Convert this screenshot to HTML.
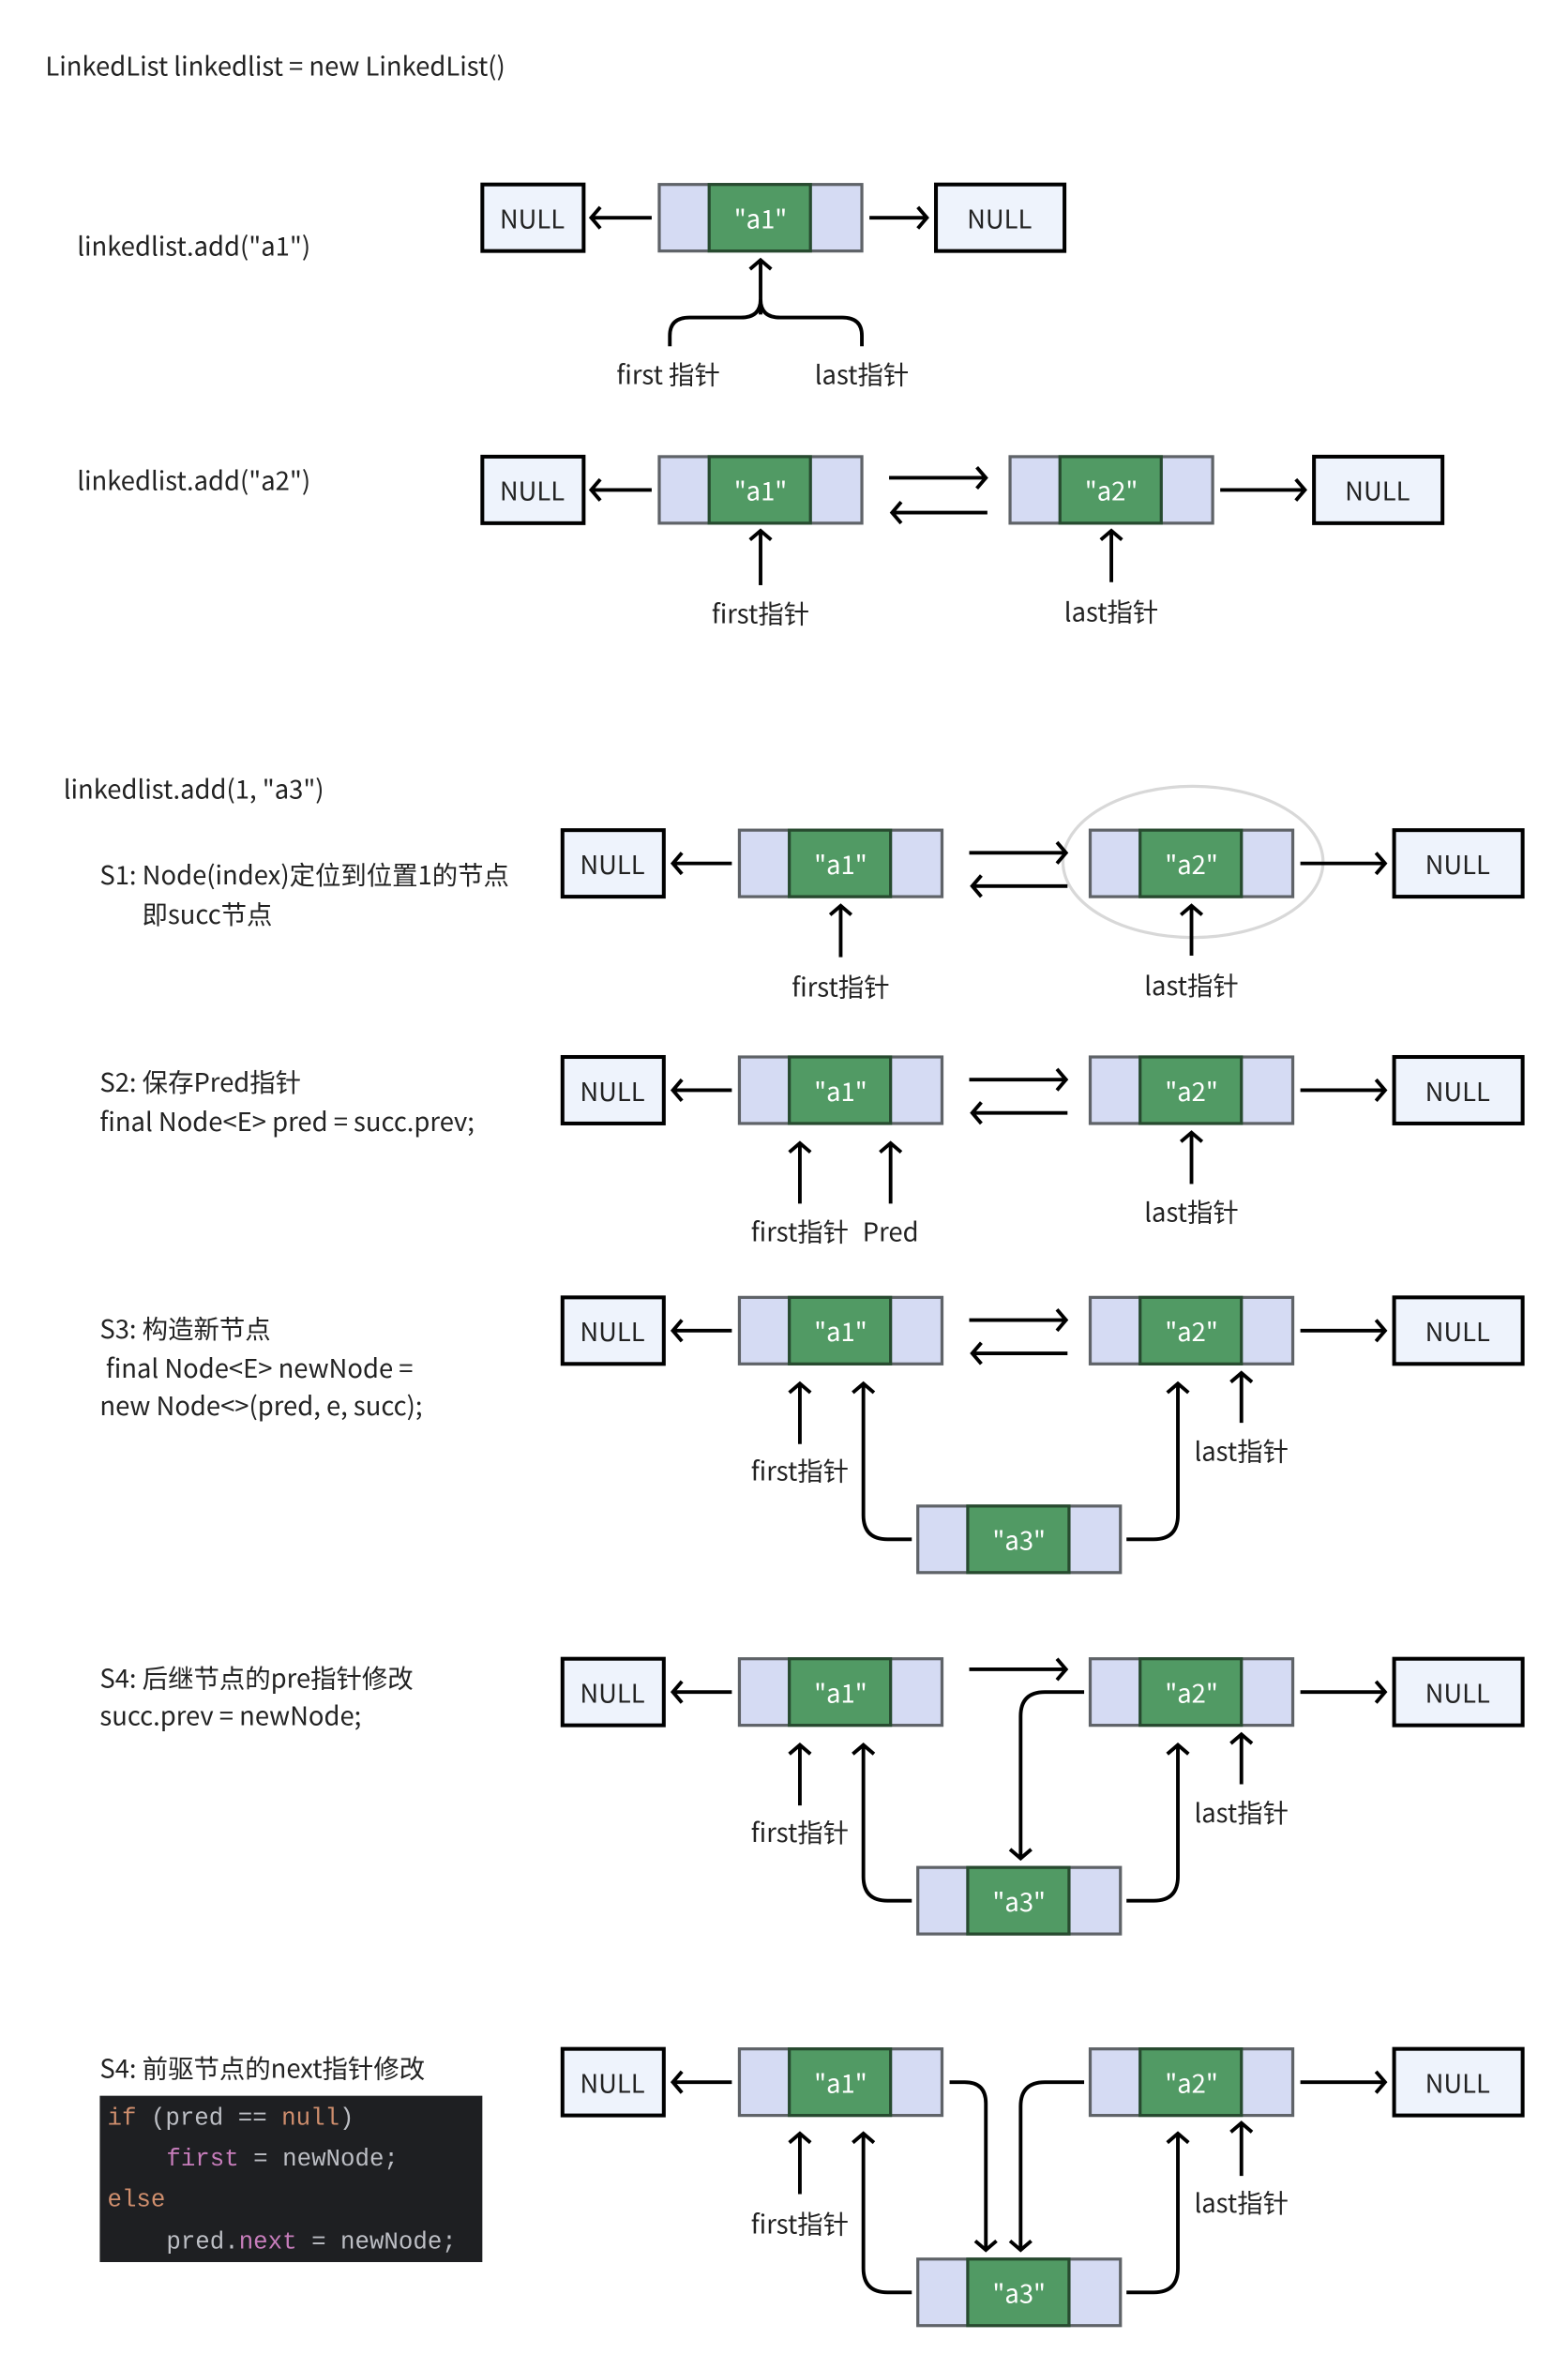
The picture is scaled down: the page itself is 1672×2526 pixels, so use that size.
<!DOCTYPE html>
<html><head><meta charset="utf-8"><style>
html,body{margin:0;padding:0;background:#fff}
svg{display:block}
text{font-family:"Noto Sans CJK SC","Liberation Sans",sans-serif;font-size:17px;fill:#222}
.w{fill:#fff;text-anchor:middle}
.c{text-anchor:middle}
.m{font-family:"Liberation Mono","Noto Sans CJK SC",monospace;font-size:16px}
.o{fill:#cf8e6d}.g{fill:#bcbec4}.p{fill:#c77dbb}
</style></head><body>
<svg width="1672" height="2526" viewBox="0 0 1037 1566.7" preserveAspectRatio="none" xmlns="http://www.w3.org/2000/svg">
<defs>
<marker id="a" markerUnits="userSpaceOnUse" markerWidth="20" markerHeight="20" viewBox="-10 -10 20 20" refX="0" refY="0" orient="auto">
<path d="M-6,-7 L0,0 L-6,7" fill="none" stroke="#000" stroke-width="2.4"/></marker>
<g id="n"><rect x="0" y="0" width="134" height="44" fill="#d5dbf3" stroke="#5f6368" stroke-width="2"/><rect x="33" y="0" width="67" height="44" fill="#519a64" stroke="#274a2f" stroke-width="2"/></g>
<g id="u"><rect x="0" y="0" width="67" height="44" fill="#eef3fc" stroke="#000" stroke-width="2.5"/></g>
<g id="v"><rect x="0" y="0" width="85" height="44" fill="#eef3fc" stroke="#000" stroke-width="2.5"/></g>
</defs>
<text x="30" y="50">LinkedList linkedlist = new LinkedList()</text>

<!-- Row 1 -->
<text x="51" y="169">linkedlist.add("a1")</text>
<use href="#u" x="319" y="122"/><text class="c" x="352" y="151">NULL</text>
<use href="#n" x="436" y="122"/><text class="w" x="503" y="151">"a1"</text>
<use href="#v" x="619" y="122"/><text class="c" x="661" y="151">NULL</text>
<g fill="none" stroke="#000" stroke-width="2.4">
<path d="M431,144 H391" marker-end="url(#a)"/>
<path d="M575,144 H613" marker-end="url(#a)"/>
<path d="M503,208 V172" marker-end="url(#a)"/>
<path d="M443,229 V222 Q443,210 456,210 H490 Q503,210 503,198"/>
<path d="M570,229 V222 Q570,210 557,210 H516 Q503,210 503,198"/>
</g>
<text class="c" x="442" y="254">first 指针</text>
<text class="c" x="570" y="254">last指针</text>

<!-- Row 2 -->
<text x="51" y="324">linkedlist.add("a2")</text>
<use href="#u" x="319" y="302"/><text class="c" x="352" y="331">NULL</text>
<use href="#n" x="436" y="302"/><text class="w" x="503" y="331">"a1"</text>
<use href="#n" x="668" y="302"/><text class="w" x="735" y="331">"a2"</text>
<use href="#v" x="869" y="302"/><text class="c" x="911" y="331">NULL</text>
<g fill="none" stroke="#000" stroke-width="2.4">
<path d="M431,324 H391" marker-end="url(#a)"/>
<path d="M588,316 H652" marker-end="url(#a)"/>
<path d="M653,339 H590" marker-end="url(#a)"/>
<path d="M807,324 H863" marker-end="url(#a)"/>
<path d="M503,387 V351" marker-end="url(#a)"/>
<path d="M735,385 V351" marker-end="url(#a)"/>
</g>
<text class="c" x="503" y="412">first指针</text>
<text class="c" x="735" y="411">last指针</text>

<text x="42" y="528">linkedlist.add(1, "a3")</text>

<!-- S1 -->
<text x="66" y="585">S1: Node(index)定位到位置1的节点</text>
<text x="94" y="611">即succ节点</text>
<ellipse cx="789" cy="570" rx="86" ry="50" fill="none" stroke="#d8d8d8" stroke-width="2"/>
<use href="#u" x="372" y="549"/><text class="c" x="405" y="578">NULL</text>
<use href="#n" x="489" y="549"/><text class="w" x="556" y="578">"a1"</text>
<use href="#n" x="721" y="549"/><text class="w" x="788" y="578">"a2"</text>
<use href="#v" x="922" y="549"/><text class="c" x="964" y="578">NULL</text>
<g fill="none" stroke="#000" stroke-width="2.4">
<path d="M484,571 H445" marker-end="url(#a)"/>
<path d="M641,564 H705" marker-end="url(#a)"/>
<path d="M706,586 H643" marker-end="url(#a)"/>
<path d="M860,571 H916" marker-end="url(#a)"/>
<path d="M556,633 V599" marker-end="url(#a)"/>
<path d="M788,632 V599" marker-end="url(#a)"/>
</g>
<text class="c" x="556" y="659">first指针</text>
<text class="c" x="788" y="658">last指针</text>

<!-- S2 -->
<text x="66" y="722">S2: 保存Pred指针</text>
<text x="66" y="748">final Node&lt;E&gt; pred = succ.prev;</text>
<use href="#u" x="372" y="699"/><text class="c" x="405" y="728">NULL</text>
<use href="#n" x="489" y="699"/><text class="w" x="556" y="728">"a1"</text>
<use href="#n" x="721" y="699"/><text class="w" x="788" y="728">"a2"</text>
<use href="#v" x="922" y="699"/><text class="c" x="964" y="728">NULL</text>
<g fill="none" stroke="#000" stroke-width="2.4">
<path d="M484,721 H445" marker-end="url(#a)"/>
<path d="M641,714 H705" marker-end="url(#a)"/>
<path d="M706,736 H643" marker-end="url(#a)"/>
<path d="M860,721 H916" marker-end="url(#a)"/>
<path d="M529,796 V756" marker-end="url(#a)"/>
<path d="M589,796 V756" marker-end="url(#a)"/>
<path d="M788,783 V749" marker-end="url(#a)"/>
</g>
<text class="c" x="529" y="821">first指针</text>
<text class="c" x="589" y="821">Pred</text>
<text class="c" x="788" y="808">last指针</text>

<!-- S3 -->
<text x="66" y="885">S3: 构造新节点</text>
<text x="70" y="911">final Node&lt;E&gt; newNode =</text>
<text x="66" y="936">new Node&lt;&gt;(pred, e, succ);</text>
<use href="#u" x="372" y="858"/><text class="c" x="405" y="887">NULL</text>
<use href="#n" x="489" y="858"/><text class="w" x="556" y="887">"a1"</text>
<use href="#n" x="721" y="858"/><text class="w" x="788" y="887">"a2"</text>
<use href="#v" x="922" y="858"/><text class="c" x="964" y="887">NULL</text>
<use href="#n" x="607" y="996"/><text class="w" x="674" y="1025">"a3"</text>
<g fill="none" stroke="#000" stroke-width="2.4">
<path d="M484,880 H445" marker-end="url(#a)"/>
<path d="M641,873 H705" marker-end="url(#a)"/>
<path d="M706,895 H643" marker-end="url(#a)"/>
<path d="M860,880 H916" marker-end="url(#a)"/>
<path d="M529,955 V915" marker-end="url(#a)"/>
<path d="M603,1018 H587 Q571,1018 571,1002 V915" marker-end="url(#a)"/>
<path d="M745,1018 H763 Q779,1018 779,1002 V915" marker-end="url(#a)"/>
<path d="M821,941 V908" marker-end="url(#a)"/>
</g>
<text class="c" x="529" y="979">first指针</text>
<text class="c" x="821" y="966">last指针</text>

<!-- S4a -->
<text x="66" y="1116">S4:  后继节点的pre指针修改</text>
<text x="66" y="1141">succ.prev = newNode;</text>
<use href="#u" x="372" y="1097"/><text class="c" x="405" y="1126">NULL</text>
<use href="#n" x="489" y="1097"/><text class="w" x="556" y="1126">"a1"</text>
<use href="#n" x="721" y="1097"/><text class="w" x="788" y="1126">"a2"</text>
<use href="#v" x="922" y="1097"/><text class="c" x="964" y="1126">NULL</text>
<use href="#n" x="607" y="1235"/><text class="w" x="674" y="1264">"a3"</text>
<g fill="none" stroke="#000" stroke-width="2.4">
<path d="M484,1119 H445" marker-end="url(#a)"/>
<path d="M641,1104 H705" marker-end="url(#a)"/>
<path d="M717,1119 H691 Q675,1119 675,1135 V1229" marker-end="url(#a)"/>
<path d="M860,1119 H916" marker-end="url(#a)"/>
<path d="M529,1194 V1154" marker-end="url(#a)"/>
<path d="M603,1257 H587 Q571,1257 571,1241 V1154" marker-end="url(#a)"/>
<path d="M745,1257 H763 Q779,1257 779,1241 V1154" marker-end="url(#a)"/>
<path d="M821,1180 V1147" marker-end="url(#a)"/>
</g>
<text class="c" x="529" y="1218">first指针</text>
<text class="c" x="821" y="1205">last指针</text>

<!-- S4b -->
<text x="66" y="1374">S4:  前驱节点的next指针修改</text>
<rect x="66" y="1386" width="253" height="110" fill="#1e1f22"/>
<text class="m" x="71" y="1405"><tspan class="o">if</tspan><tspan class="g"> (pred == </tspan><tspan class="o">null</tspan><tspan class="g">)</tspan></text>
<text class="m" x="110" y="1432"><tspan class="p">first</tspan><tspan class="g"> = newNode;</tspan></text>
<text class="m o" x="71" y="1459">else</text>
<text class="m" x="110" y="1487"><tspan class="g">pred.</tspan><tspan class="p">next</tspan><tspan class="g"> = newNode;</tspan></text>
<use href="#u" x="372" y="1355"/><text class="c" x="405" y="1384">NULL</text>
<use href="#n" x="489" y="1355"/><text class="w" x="556" y="1384">"a1"</text>
<use href="#n" x="721" y="1355"/><text class="w" x="788" y="1384">"a2"</text>
<use href="#v" x="922" y="1355"/><text class="c" x="964" y="1384">NULL</text>
<use href="#n" x="607" y="1494"/><text class="w" x="674" y="1523">"a3"</text>
<g fill="none" stroke="#000" stroke-width="2.4">
<path d="M484,1377 H445" marker-end="url(#a)"/>
<path d="M628,1377 H638 Q652,1377 652,1391 V1488" marker-end="url(#a)"/>
<path d="M717,1377 H691 Q675,1377 675,1393 V1488" marker-end="url(#a)"/>
<path d="M860,1377 H916" marker-end="url(#a)"/>
<path d="M529,1451 V1411" marker-end="url(#a)"/>
<path d="M603,1516 H587 Q571,1516 571,1500 V1411" marker-end="url(#a)"/>
<path d="M745,1516 H763 Q779,1516 779,1500 V1411" marker-end="url(#a)"/>
<path d="M821,1439 V1404" marker-end="url(#a)"/>
</g>
<text class="c" x="529" y="1477">first指针</text>
<text class="c" x="821" y="1463">last指针</text>
</svg>
</body></html>
